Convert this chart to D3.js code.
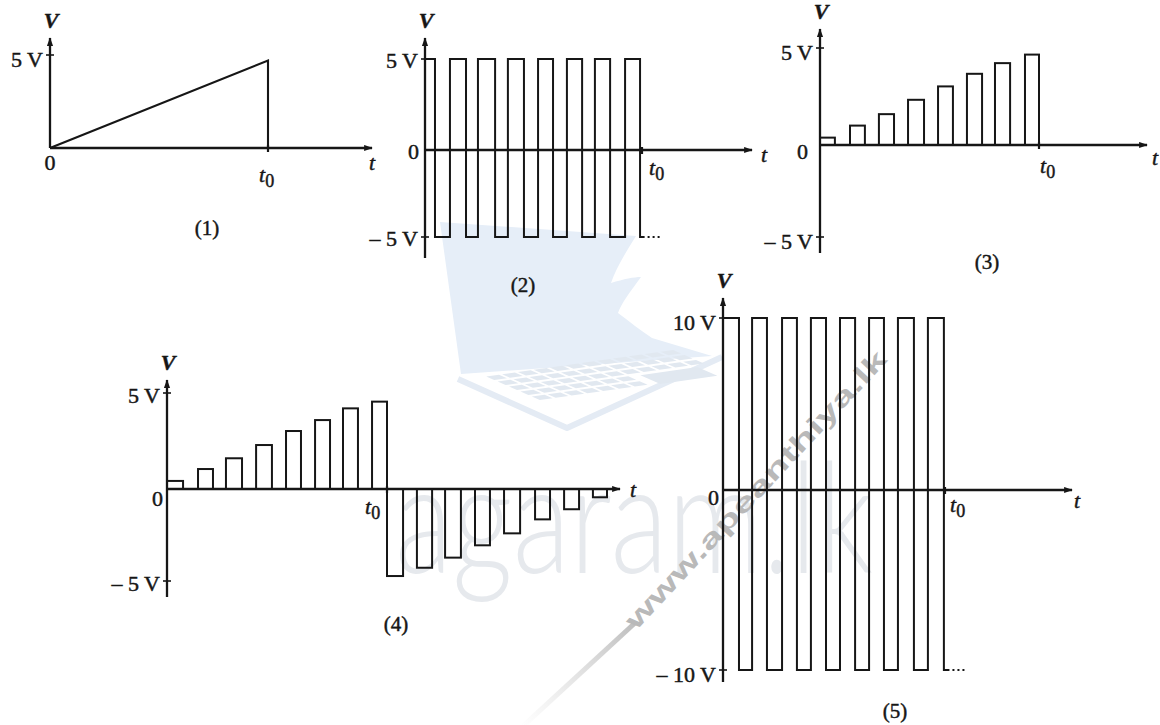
<!DOCTYPE html>
<html>
<head>
<meta charset="utf-8">
<script src="https://cdn.jsdelivr.net/npm/d3@7"></script>
<style>
  body { margin: 0; background: #fff; }
  svg { display: block; }
  .lab { font-family: "Liberation Serif", "DejaVu Serif", serif; fill: #161616; stroke: #161616; stroke-width: 0.45px; }
</style>
</head>
<body>
<div id="chart"></div>
<script>
// ---- data (time in units of t0, voltage in volts) ----

// (1) ramp
const rampT = [0, 1, 1];
const rampV = [0, 4.7, 0];
const p1Ticks = [5];

// (2) square wave +/-5 V: start and end of each high part
const sq2Start = [0, 0.115, 0.244, 0.382, 0.521, 0.654, 0.783, 0.922];
const sq2End   = [0.046, 0.189, 0.323, 0.456, 0.590, 0.724, 0.853, 0.991];
const sq2Level = 5;
const p2Ticks = [5, -5];

// (3) rising pulses
const p3Start = [0, 0.137, 0.269, 0.402, 0.539, 0.671, 0.799, 0.936];
const p3End   = [0.068, 0.205, 0.338, 0.475, 0.607, 0.740, 0.868, 1.0];
const p3Volts = [0.38, 1.0, 1.59, 2.33, 3.02, 3.67, 4.22, 4.66];
const p3Ticks = [5, -5];

// (4) rising then decaying negative pulses
const p4Start = [0, 0.141, 0.268, 0.405, 0.541, 0.673, 0.8, 0.932,
                 1.0, 1.136, 1.264, 1.4, 1.532, 1.673, 1.805, 1.936];
const p4End   = [0.073, 0.209, 0.341, 0.477, 0.609, 0.741, 0.868, 1.0,
                 1.073, 1.205, 1.336, 1.468, 1.605, 1.741, 1.873, 2.0];
const p4Volts = [0.42, 1.04, 1.6, 2.29, 3.02, 3.59, 4.2, 4.55,
                 -4.73, -4.28, -3.73, -3.06, -2.41, -1.65, -1.1, -0.45];
const p4Ticks = [5, -5];

// (5) square wave +/-10 V
const sq5Start = [0, 0.131, 0.266, 0.396, 0.527, 0.658, 0.788, 0.923];
const sq5End   = [0.072, 0.198, 0.333, 0.464, 0.595, 0.725, 0.86, 0.995];
const sq5Level = 10;
const p5Ticks = [10, -10];

const captions = ["(1)", "(2)", "(3)", "(4)", "(5)"];

// ---- layout ----
const ink = "#161616";
const layout = {
  p1: { ox: 50, t0x: 268, xEnd: 372, yTop: 38, yBot: 148, vDom: [0, 5], vRng: [148, 55], dyLab: 12,
        zero: [50, 170, "middle"], t0: [259, 182], t: [372, 170], cap: [207, 235] },
  p2: { ox: 425, t0x: 642, xEnd: 752, yTop: 38, yBot: 258, vDom: [-5, 0, 5], vRng: [237, 150, 59], dyLab: 9,
        zero: [419, 159, "end"], t0: [649, 175], t: [764, 162], cap: [523, 292] },
  p3: { ox: 820, t0x: 1039, xEnd: 1147, yTop: 29, yBot: 253, vDom: [-5, 0, 5], vRng: [237, 145, 48], dyLab: 12,
        zero: [808, 159, "end"], t0: [1040, 173], t: [1155, 165], cap: [987, 269] },
  p4: { ox: 167, t0x: 387, xEnd: 620, yTop: 380, yBot: 597, vDom: [-5, 0, 5], vRng: [581, 489, 393], dyLab: 10,
        zero: [163, 506, "end"], t0: [365, 514], t: [633, 497], cap: [396, 631] },
  p5: { ox: 723, t0x: 945, xEnd: 1072, yTop: 298, yBot: 682, vDom: [-10, 0, 10], vRng: [670, 490, 318], dyLab: 12,
        zero: [719, 505, "end"], t0: [950, 512], t: [1077, 508], cap: [895, 718] }
};

const svg = d3.select("#chart").append("svg")
    .attr("width", 1160)
    .attr("height", 725);

const defs = svg.append("defs");
defs.append("marker")
    .attr("id", "arrow")
    .attr("viewBox", "0 0 10 8")
    .attr("refX", 9).attr("refY", 4)
    .attr("markerUnits", "userSpaceOnUse")
    .attr("markerWidth", 10).attr("markerHeight", 7)
    .attr("orient", "auto")
    .append("path")
    .attr("d", "M0,0.5 L10,4 L0,7.5 Z")
    .attr("fill", ink);

const fade = defs.append("linearGradient")
    .attr("id", "fade")
    .attr("x1", "0").attr("y1", "1").attr("x2", "1").attr("y2", "0");
fade.append("stop").attr("offset", "0").attr("stop-color", "#d0d0d0").attr("stop-opacity", 0);
fade.append("stop").attr("offset", "1").attr("stop-color", "#bdbdbd").attr("stop-opacity", 1);

// ---- watermarks (drawn underneath) ----
const wm = svg.append("g");

// laptop logo
wm.append("path")
    .attr("d", "M440,222 L636,236 C626,252 616,268 611,283 C624,279 634,277 641,277 " +
               "C630,292 621,304 618,313 C630,322 640,330 652,338 L712,356 L461,374 Z")
    .attr("fill", "#e6eef8");
wm.append("path")
    .attr("d", "M458,379 L567,428 L722,357")
    .attr("fill", "none")
    .attr("stroke", "#e4ebf4")
    .attr("stroke-width", 6)
    .attr("stroke-linejoin", "round");
const kb = wm.append("g")
    .attr("transform", "matrix(190,-27,57,25,483,376)");
d3.range(5).forEach(r => {
    d3.range(12).forEach(c => {
        if (r >= 3 && c >= 7) return;
        kb.append("rect")
            .attr("x", c / 12 + 0.008).attr("y", r / 5 + 0.03)
            .attr("width", 1 / 12 - 0.016).attr("height", 1 / 5 - 0.06)
            .attr("fill", "#e1e8f0");
    });
});
kb.append("rect")
    .attr("x", 7 / 12 + 0.05).attr("y", 3 / 5 + 0.05)
    .attr("width", 0.3).attr("height", 0.35)
    .attr("fill", "#e1e8f0");

// big site name
wm.append("text")
    .attr("x", 395).attr("y", 573)
    .attr("textLength", 478)
    .attr("lengthAdjust", "spacingAndGlyphs")
    .style("font-family", "Lato, 'Open Sans', sans-serif")
    .style("font-weight", 300)
    .style("font-size", "155px")
    .style("fill", "#e6e9ed")
    .text("agaram.lk");

// diagonal address with fading line
wm.append("line")
    .attr("x1", 522).attr("y1", 727).attr("x2", 636).attr("y2", 622)
    .attr("stroke", "url(#fade)")
    .attr("stroke-width", 5);
wm.append("text")
    .attr("transform", "translate(636,631) rotate(-47)")
    .attr("textLength", 370)
    .attr("lengthAdjust", "spacingAndGlyphs")
    .style("font-family", "'Liberation Sans', Arial, sans-serif")
    .style("font-weight", "bold")
    .style("font-size", "26px")
    .style("fill", "#b9b9b9")
    .text("www.apeanthiya.lk");

// ---- helpers ----
const fmtTick = v => (v < 0 ? "\u2013 " + (-v) : String(v)) + " V";

function makePanel(p, ticks, caption) {
    const g = svg.append("g");
    const x = d3.scaleLinear().domain([0, 1]).range([p.ox, p.t0x]);
    const y = d3.scaleLinear().domain(p.vDom).range(p.vRng);
    const y0 = y(0);

    // axes with arrows
    g.append("line")
        .attr("x1", p.ox).attr("y1", p.yBot).attr("x2", p.ox).attr("y2", p.yTop)
        .attr("stroke", ink).attr("stroke-width", 2.3)
        .attr("marker-end", "url(#arrow)");
    g.append("line")
        .attr("x1", p.ox).attr("y1", y0).attr("x2", p.xEnd).attr("y2", y0)
        .attr("stroke", ink).attr("stroke-width", 2.3)
        .attr("marker-end", "url(#arrow)");

    // tick crosses and labels
    g.selectAll(".tk").data(ticks).enter().append("line")
        .attr("x1", p.ox - 4).attr("x2", p.ox + 4)
        .attr("y1", d => y(d)).attr("y2", d => y(d))
        .attr("stroke", ink).attr("stroke-width", 1.6);
    g.selectAll(".tl").data(ticks).enter().append("text")
        .attr("class", "lab")
        .attr("x", p.ox - 7)
        .attr("y", d => y(d) + p.dyLab)
        .attr("text-anchor", "end")
        .style("font-size", "22px")
        .text(fmtTick);

    // t0 tick on the time axis
    g.append("line")
        .attr("x1", x(1)).attr("x2", x(1))
        .attr("y1", y0 - 3).attr("y2", y0 + 4)
        .attr("stroke", ink).attr("stroke-width", 2.2);

    g.append("text").attr("class", "lab")
        .attr("x", p.zero[0]).attr("y", p.zero[1])
        .attr("text-anchor", p.zero[2])
        .style("font-size", "22px").text("0");

    const t0 = g.append("text").attr("class", "lab")
        .attr("x", p.t0[0]).attr("y", p.t0[1])
        .style("font-size", "22px");
    t0.append("tspan").style("font-style", "italic").text("t");
    t0.append("tspan").attr("dy", 5).style("font-size", "18px").text("0");

    g.append("text").attr("class", "lab")
        .attr("x", p.t[0]).attr("y", p.t[1])
        .attr("text-anchor", "middle")
        .style("font-size", "22px").style("font-style", "italic").text("t");

    g.append("text").attr("class", "lab")
        .attr("x", p.ox + 1).attr("y", p.yTop - 10)
        .attr("text-anchor", "middle")
        .style("font-size", "22px").style("font-style", "italic").style("font-weight", "bold")
        .text("V");

    g.append("text").attr("class", "lab")
        .attr("x", p.cap[0]).attr("y", p.cap[1])
        .attr("text-anchor", "middle")
        .style("font-size", "21px").text(caption);

    return { g, x, y };
}

function squareWave(pan, starts, ends, level, tail) {
    const pts = [];
    starts.forEach((s, i) => {
        pts.push([s, level]);
        pts.push([ends[i], -level]);
    });
    pts.push([tail, -level]);
    const line = d3.line()
        .x(d => pan.x(d[0]))
        .y(d => pan.y(d[1]))
        .curve(d3.curveStepAfter);
    pan.g.append("path")
        .attr("d", line(pts))
        .attr("fill", "none")
        .attr("stroke", ink)
        .attr("stroke-width", 2);
    // continuation dots
    pan.g.append("line")
        .attr("x1", pan.x(tail) + 3).attr("x2", pan.x(tail) + 17)
        .attr("y1", pan.y(-level)).attr("y2", pan.y(-level))
        .attr("stroke", ink).attr("stroke-width", 2)
        .attr("stroke-dasharray", "2,3");
}

function pulses(pan, starts, ends, volts) {
    pan.g.selectAll(".bar")
        .data(volts)
        .enter()
        .append("rect")
        .attr("x", (d, i) => pan.x(starts[i]))
        .attr("width", (d, i) => pan.x(ends[i]) - pan.x(starts[i]))
        .attr("y", d => Math.min(pan.y(d), pan.y(0)))
        .attr("height", d => Math.abs(pan.y(0) - pan.y(d)))
        .attr("fill", "none")
        .attr("stroke", ink)
        .attr("stroke-width", 2);
}

// ---- panels ----
const pan1 = makePanel(layout.p1, p1Ticks, captions[0]);
pan1.g.append("path")
    .attr("d", d3.line().x((d, i) => pan1.x(rampT[i])).y(d => pan1.y(d))(rampV))
    .attr("fill", "none")
    .attr("stroke", ink)
    .attr("stroke-width", 2.1);

const pan2 = makePanel(layout.p2, p2Ticks, captions[1]);
squareWave(pan2, sq2Start, sq2End, sq2Level, 1.012);

const pan3 = makePanel(layout.p3, p3Ticks, captions[2]);
pulses(pan3, p3Start, p3End, p3Volts);

const pan4 = makePanel(layout.p4, p4Ticks, captions[3]);
pulses(pan4, p4Start, p4End, p4Volts);

const pan5 = makePanel(layout.p5, p5Ticks, captions[4]);
squareWave(pan5, sq5Start, sq5End, sq5Level, 1.02);
</script>
</body>
</html>
